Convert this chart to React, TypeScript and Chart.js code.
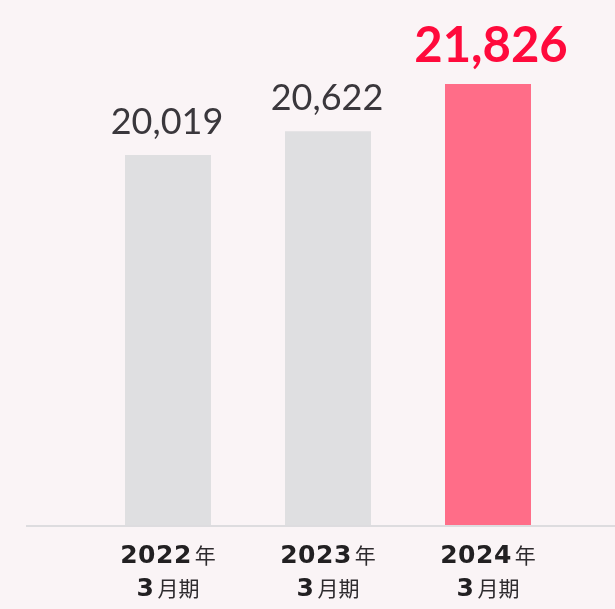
import React, { useEffect, useRef } from "react";
import { Chart, registerables } from "chart.js";

Chart.register(...registerables);

const yearLabels = ["2022年", "2023年", "2024年"];
const periodLabels = ["3月期", "3月期", "3月期"];
const values = [20019, 20622, 21826];
const highlightIndex = 2;

const BG = "#faf4f6";
const GRAY_BAR = "#dfdfe1";
const PINK_BAR = "#ff6d88";
const RED_TEXT = "#ff0a3c";
const DARK_TEXT = "#3a373c";
const LABEL_TEXT = "#222022";

function drawMixed(ctx: CanvasRenderingContext2D, text: string, cx: number, y: number) {
  const runs: { t: string; bold: boolean }[] = [];
  for (const ch of text) {
    const bold = /[0-9]/.test(ch);
    const last = runs[runs.length - 1];
    if (last && last.bold === bold) last.t += ch;
    else runs.push({ t: ch, bold });
  }
  const boldFont = "bold 25px 'DejaVu Sans'";
  const cjkFont = "400 21px 'Noto Sans CJK JP'";
  const gap = 3;
  const setFont = (bold: boolean) => {
    ctx.font = bold ? boldFont : cjkFont;
    (ctx as any).letterSpacing = bold ? "0.5px" : "0px";
  };
  const widths = runs.map((r) => {
    setFont(r.bold);
    return ctx.measureText(r.t).width;
  });
  const total = widths.reduce((a, b) => a + b, 0) + gap * (runs.length - 1);
  let x = cx - total / 2;
  runs.forEach((r, i) => {
    setFont(r.bold);
    ctx.fillStyle = r.bold ? LABEL_TEXT : "#2e2b2e";
    ctx.fillText(r.t, x, y);
    x += widths[i] + gap;
  });
  (ctx as any).letterSpacing = "0px";
}

const decorPlugin = {
  id: "decor",
  afterDatasetsDraw(chart: any) {
    const ctx: CanvasRenderingContext2D = chart.ctx;
    const area = chart.chartArea;
    ctx.save();
    ctx.fillStyle = "#dddcdf";
    ctx.fillRect(area.left - 62, area.bottom, chart.width, 2);

    const meta = chart.getDatasetMeta(0);
    ctx.textAlign = "center";
    ctx.textBaseline = "alphabetic";
    meta.data.forEach((bar: any, i: number) => {
      const v = chart.data.datasets[0].data[i] as number;
      const txt = v.toLocaleString("en-US");
      if (i === highlightIndex) {
        ctx.font = "bold 49px Lato";
        ctx.fillStyle = RED_TEXT;
        ctx.fillText(txt, bar.x + 3, bar.y - 22);
      } else {
        ctx.font = "400 36px Lato";
        ctx.fillStyle = DARK_TEXT;
        ctx.fillText(txt, bar.x - 1, bar.y - 21);
      }
    });

    ctx.textAlign = "left";
    const xs = chart.scales.x;
    yearLabels.forEach((lab, i) => {
      const cx = xs.getPixelForValue(i);
      drawMixed(ctx, lab, cx, area.bottom + 38);
      drawMixed(ctx, periodLabels[i], cx, area.bottom + 71);
    });
    ctx.restore();
  },
};

export default function App() {
  const ref = useRef<HTMLCanvasElement | null>(null);
  useEffect(() => {
    document.body.style.margin = "0";
    const chart = new Chart(ref.current as HTMLCanvasElement, {
      type: "bar",
      data: {
        labels: yearLabels,
        datasets: [
          {
            data: values,
            backgroundColor: values.map((_, i) => (i === highlightIndex ? PINK_BAR : GRAY_BAR)),
            borderWidth: 0,
            barPercentage: 0.5375,
            categoryPercentage: 1,
          },
        ],
      },
      options: {
        responsive: false,
        animation: false,
        layout: { padding: { left: 88, right: 47, top: 0, bottom: 84 } },
        plugins: { legend: { display: false }, tooltip: { enabled: false } },
        scales: {
          x: { display: false },
          y: { display: false, min: 10590, max: 23965 },
        },
      },
      plugins: [decorPlugin],
    });
    return () => chart.destroy();
  }, []);
  return (
    <div style={{ position: "fixed", left: 0, top: 0, width: 615, height: 609, background: BG }}>
      <canvas ref={ref} width={615} height={609} style={{ display: "block" }} />
    </div>
  );
}
